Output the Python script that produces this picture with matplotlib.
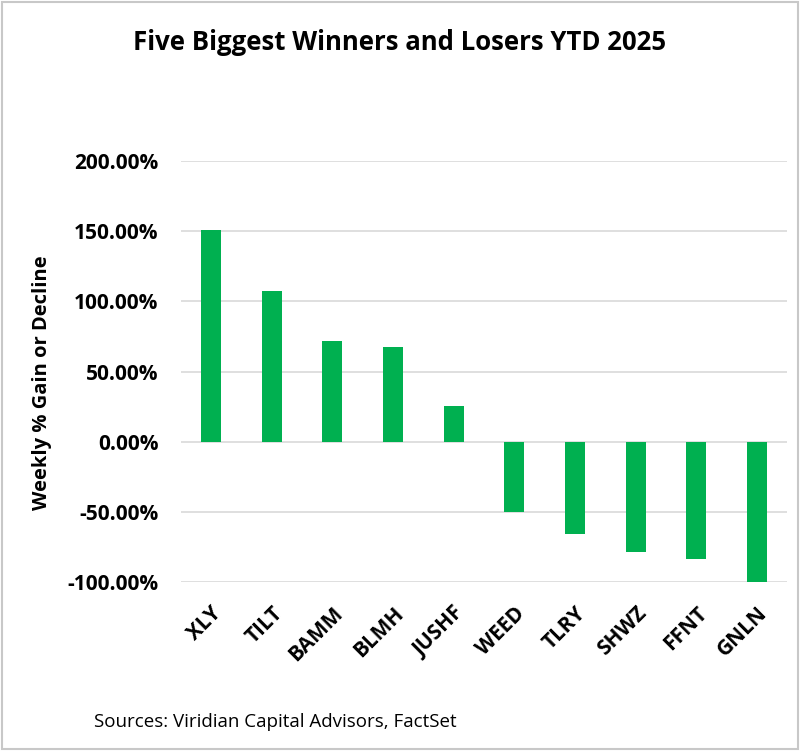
import matplotlib
matplotlib.use("Agg")
import matplotlib.pyplot as plt
from matplotlib.patches import Rectangle
from matplotlib.ticker import FuncFormatter

tickers = ["XLY", "TILT", "BAMM", "BLMH", "JUSHF", "WEED", "TLRY", "SHWZ", "FFNT", "GNLN"]
ytd_pct = [151.0, 107.5, 72.0, 67.5, 25.5, -50.0, -66.0, -78.5, -83.5, -100.0]

GREEN = "#00B050"
plt.rcParams["font.family"] = ["Open Sans", "DejaVu Sans"]

fig = plt.figure(figsize=(8, 7.51), dpi=100)
ax = fig.add_axes([0.226, 0.225, 0.758, 0.5606])

ax.bar(range(len(tickers)), ytd_pct, width=0.33, color=GREEN, zorder=3)
ax.set_xlim(-0.5, len(tickers) - 0.5)
ax.set_ylim(-100, 200)
ax.set_yticks(range(-100, 201, 50))
ax.yaxis.set_major_formatter(FuncFormatter(lambda v, _: f"{v:.2f}%"))
ax.grid(axis="y", color="#d9d9d9", lw=1.2, zorder=0)
for s in ax.spines.values():
    s.set_visible(False)
ax.tick_params(length=0)
ax.tick_params(axis="y", pad=16)
ax.set_xticks(range(len(tickers)))
ax.set_xticklabels(tickers, rotation=45, ha="right", rotation_mode="anchor",
                   fontsize=15, fontweight="bold")
ax.tick_params(axis="x", pad=15)
for lab in ax.get_yticklabels():
    lab.set_fontsize(15)
    lab.set_fontweight("bold")

fig.text(0.5, 0.944, "Five Biggest Winners and Losers YTD 2025", ha="center", va="center",
         fontsize=18.5, fontweight="bold")
fig.text(0.053, 0.49, "Weekly % Gain or Decline", rotation=90, ha="center", va="center",
         fontsize=14.5, fontweight="bold")
fig.text(0.118, 0.039, "Sources: Viridian Capital Advisors, FactSet", ha="left", va="center",
         fontsize=13.5)

fig.patches.append(Rectangle((0.002, 0.002), 0.996, 0.996, transform=fig.transFigure,
                             fill=False, edgecolor="#c8c8c8", lw=1.5))

fig.savefig("out.png", dpi=100)
